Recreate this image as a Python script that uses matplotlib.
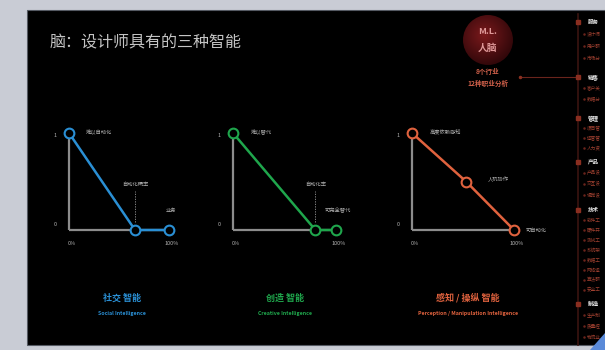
import numpy as np
import matplotlib
matplotlib.use("Agg")
import matplotlib.pyplot as plt
from matplotlib.patches import Rectangle, Circle, Polygon

plt.rcParams['font.family'] = ['Noto Sans CJK SC', 'DejaVu Sans']

# ---------------- data ----------------
title = "脑：设计师具有的三种智能"
categories = ["社交 智能", "创造 智能", "感知 / 操纵 智能"]
categories_en = ["Social Intelligence", "Creative Intelligence",
                 "Perception / Manipulation Intelligence"]
series_colors = ["#2a8fd4", "#1fa64c", "#e0623e"]

social_x = [0.0, 0.66, 1.0]
social_y = [1.0, 0.0, 0.0]
creative_x = [0.0, 0.80, 1.0]
creative_y = [1.0, 0.0, 0.0]
percept_x = [0.0, 0.53, 1.0]
percept_y = [1.0, 0.5, 0.0]

point_labels = [
    ["难以自动化", "自动化概率", "业务"],
    ["难以替代", "自动化率", "可完全替代"],
    ["高度依赖感知", "人机协作", "可自动化"],
]
x_ticklabels = ["0%", "100%"]
y_ticklabels = ["1", "0"]

side_tags = ["服务", "销售", "管理", "产品", "技术", "制造"]
side_lines = [["设计师", "用户研", "市场分"],
              ["客户关", "数据分"],
              ["项目管", "运营管", "人力资"],
              ["产品设", "交互设", "视觉设"],
              ["软件工", "硬件开", "测试工", "系统架", "数据工",
               "网络运", "算法研", "安全工"],
              ["生产制", "质量控", "物流业"]]

# ---------------- figure ----------------
W, H = 605, 350
fig = plt.figure(figsize=(W / 100, H / 100), dpi=100)
fig.patch.set_facecolor("#c9ccd5")

bg = fig.add_axes([0, 0, 1, 1])
bg.set_xlim(0, W)
bg.set_ylim(H, 0)
bg.axis("off")
bg.add_patch(Rectangle((27, 10), W - 27, 335, facecolor="black",
                       edgecolor="#555a63", lw=0.8))

bg.text(50, 43, title, color="#c4c4c4", fontsize=11.5, va="center",
        ha="left")

# top-right red circle with gradient
cx, cy, r = 488, 40, 25
n = 200
xx, yy = np.meshgrid(np.linspace(-1, 1, n), np.linspace(-1, 1, n))
d = np.sqrt((xx + 0.15) ** 2 + (yy + 0.2) ** 2)
c0 = np.array([0.48, 0.10, 0.11])
c1 = np.array([0.20, 0.03, 0.04])
t = np.clip(d / 1.2, 0, 1)[..., None]
img = c0 * (1 - t) + c1 * t
im = bg.imshow(img, extent=(cx - r, cx + r, cy + r, cy - r), zorder=2)
clip = Circle((cx, cy), r, transform=bg.transData)
im.set_clip_path(clip)
bg.text(cx, cy - 8, "M.L.", color="#e09a9a", fontsize=6.5, ha="center",
        va="center", fontweight="bold", zorder=3)
bg.text(cx, cy + 8, "人脑", color="#e09a9a", fontsize=7, ha="center",
        va="center", fontweight="bold", zorder=3)
bg.text(cx, 71, "8个行业", color="#d0604a", fontsize=4.8, ha="center",
        va="center", fontweight="bold")
bg.text(cx, 83, "12种职业分析", color="#d0604a", fontsize=4.8, ha="center",
        va="center", fontweight="bold")
bg.plot([520, 578], [77, 77], color="#6a241c", lw=0.8)
bg.plot([520], [77], "o", color="#8a3020", ms=1.5)

# right timeline strip
bg.plot([578, 578], [14, 345], color="#3a1410", lw=1.2)
tag_y = [22, 77, 118, 162, 210, 304]
line_gap = [12, 11, 10, 11, 10, 11]
for ty, tag, lines, g in zip(tag_y, side_tags, side_lines, line_gap):
    bg.add_patch(Rectangle((576, ty - 2), 4, 4, color="#8a2e20", zorder=3))
    bg.text(588, ty, tag, color="#e6e6e6", fontsize=4, va="center",
            ha="left", fontweight="bold")
    for k, ln in enumerate(lines):
        yy_ = ty + g * (k + 1)
        bg.plot([584], [yy_], "o", color="#6a241c", ms=0.8)
        bg.text(587, yy_, ln, color="#a04030", fontsize=3.3, va="center",
                ha="left")

# page curl
bg.add_patch(Polygon([[605, 333], [605, 350], [590, 350]],
                     closed=True, facecolor="#5a8ad8", edgecolor="none"))

# ---------------- three charts ----------------
origins = [(69, 169), (233, 336), (412, 514)]
datasets = [(social_x, social_y), (creative_x, creative_y),
            (percept_x, percept_y)]
label_centers = [122, 285, 468]
top_px, base_px = 133, 230

for i, ((x0, x1), (xs, ys), col) in enumerate(zip(origins, datasets,
                                                   series_colors)):
    ax = fig.add_axes([x0 / W, (H - base_px) / H, (x1 - x0) / W,
                       (base_px - top_px) / H])
    ax.set_xlim(0, 1)
    ax.set_ylim(0, 1)
    ax.axis("off")
    ax.patch.set_alpha(0)
    # gray axes
    ax.plot([0, 0], [0, 1.02], color="#8c8c8c", lw=1.6, clip_on=False,
            zorder=1, solid_capstyle="butt")
    ax.plot([0, xs[-1]], [0, 0], color="#8c8c8c", lw=1.6, clip_on=False,
            zorder=1, solid_capstyle="butt")
    ax.plot(xs, ys, color=col, lw=1.8, marker="o", ms=7, mfc="black",
            mec=col, mew=1.5, clip_on=False, zorder=3)
    # ticks
    ax.text(-0.12, 1.0, y_ticklabels[0], color="#b0b0b0", fontsize=4,
            ha="right", va="top")
    ax.text(-0.12, 0.06, y_ticklabels[1], color="#b0b0b0", fontsize=4,
            ha="right", va="center")
    ax.text(0.03, -0.14, x_ticklabels[0], color="#b0b0b0", fontsize=4,
            ha="center", va="center")
    ax.text(1.03, -0.14, x_ticklabels[1], color="#b0b0b0", fontsize=4,
            ha="center", va="center")
    labs = point_labels[i]
    ax.text(0.17, 1.0, labs[0], color="#b0b0b0", fontsize=3.8,
            ha="left", va="center")
    if i < 2:
        xm = xs[1]
        ax.plot([xm, xm], [0.08, 0.4], color="#999999", lw=0.6,
                ls=(0, (1.5, 1.5)))
        ax.text(xm, 0.47, labs[1], color="#b0b0b0", fontsize=3.8,
                ha="center", va="center")
        ax.text(xs[2] + 0.02, 0.2, labs[2], color="#b0b0b0", fontsize=3.8,
                ha="center", va="center")
    else:
        ax.text(xs[1] + 0.32, ys[1] + 0.02, labs[1], color="#b0b0b0",
                fontsize=3.8, ha="center", va="center")
        ax.text(xs[2] + 0.22, 0.0, labs[2], color="#b0b0b0", fontsize=3.8,
                ha="center", va="center")

    bg.text(label_centers[i], 298, categories[i], color=col, fontsize=6.5,
            ha="center", va="center", fontweight="bold")
    bg.text(label_centers[i], 313, categories_en[i], color=col,
            fontsize=3.8, ha="center", va="center", fontweight="bold")

fig.savefig("out.png", dpi=100, facecolor=fig.get_facecolor())
